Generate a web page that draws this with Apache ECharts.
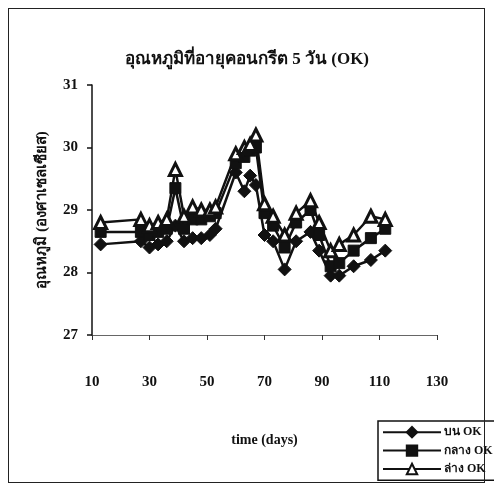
<!DOCTYPE html>
<html>
<head>
<meta charset="utf-8">
<script src="https://cdn.jsdelivr.net/npm/echarts@6/dist/echarts.min.js"></script>
<style>
html,body{margin:0;padding:0;background:#fff;}
#c{width:494px;height:491px;}
#frame{position:absolute;left:8px;top:8px;width:477px;height:475px;border:1px solid #222;box-sizing:border-box;pointer-events:none;}
</style>
</head>
<body>
<div id="c"></div>
<div id="frame"></div>
<script>
const days = [13, 27, 30, 33, 36, 39, 42, 45, 48, 51, 53, 60, 63, 65, 67, 70, 73, 77, 81, 86, 89, 93, 96, 101, 107, 112];
const topSeries = [28.8, 28.85, 28.75, 28.8, 28.85, 29.65, 28.9, 29.05, 29.0, 29.0, 29.05, 29.9, 30.0, 30.05, 30.2, 29.1, 28.9, 28.6, 28.95, 29.15, 28.8, 28.35, 28.45, 28.6, 28.9, 28.85];
const midSeries = [28.65, 28.65, 28.6, 28.65, 28.7, 29.35, 28.7, 28.85, 28.85, 28.9, 28.95, 29.75, 29.85, 29.95, 30.0, 28.95, 28.75, 28.4, 28.8, 29.0, 28.6, 28.1, 28.15, 28.35, 28.55, 28.7];
const lowSeries = [28.45, 28.5, 28.4, 28.45, 28.5, 28.75, 28.5, 28.55, 28.55, 28.6, 28.7, 29.6, 29.3, 29.55, 29.4, 28.6, 28.5, 28.05, 28.5, 28.65, 28.35, 27.95, 27.95, 28.1, 28.2, 28.35];
const xTicks = [10, 30, 50, 70, 90, 110, 130];
const yTicks = [27, 28, 29, 30, 31];
const names = ['บน OK', 'กลาง OK', 'ล่าง OK'];
const title = 'อุณหภูมิที่อายุคอนกรีต 5 วัน (OK)';
const yName = 'อุณหภูมิ (องศาเซลเซียส)';
const xName = 'time (days)';

const FONT = '"Liberation Serif", "Noto Sans", serif';
const pairs = a => days.map((d, i) => [d, a[i]]);
const chart = echarts.init(document.getElementById('c'));
const mk = (name, data, symbol, size, white) => ({
  name, type: 'line', data: pairs(data), symbol, symbolSize: size,
  lineStyle: {color: '#111', width: 2.5},
  itemStyle: white ? {color: '#fff', borderColor: '#111', borderWidth: 3} : {color: '#111', borderColor: '#111', borderWidth: 1},
  z: 3
});
chart.setOption({
  animation: false,
  backgroundColor: '#fff',
  title: {
    text: title, left: 'center', top: 46,
    textStyle: {fontFamily: FONT, fontSize: 17, fontWeight: 'bold', color: '#111'}
  },
  grid: {left: 92, right: 57, top: 85, bottom: 156},
  xAxis: {
    type: 'value', min: 10, max: 130, interval: 20,
    name: xName, nameLocation: 'middle', nameGap: 98,
    nameTextStyle: {fontFamily: FONT, fontSize: 14, fontWeight: 'bold', color: '#111'},
    axisLine: {lineStyle: {color: '#666', width: 1}},
    axisTick: {show: true, length: 5, lineStyle: {color: '#333', width: 1}},
    axisLabel: {margin: 40, fontFamily: FONT, fontSize: 15, fontWeight: 'bold', color: '#111',
      formatter: v => xTicks.includes(v) ? String(v) : ''},
    splitLine: {show: false}
  },
  yAxis: {
    type: 'value', min: 27, max: 31, interval: 1,
    name: yName, nameLocation: 'middle', nameGap: 42, nameRotate: 90,
    nameTextStyle: {fontFamily: FONT, fontSize: 15, fontWeight: 'bold', color: '#111'},
    axisLine: {show: true, lineStyle: {color: '#111', width: 1.5}},
    axisTick: {show: true, length: 5, lineStyle: {color: '#111', width: 1.5}},
    axisLabel: {margin: 14, fontFamily: FONT, fontSize: 15, fontWeight: 'bold', color: '#111',
      formatter: v => yTicks.includes(v) ? String(v) : ''},
    splitLine: {show: false}
  },
  legend: {
    orient: 'vertical', left: 378, top: 421,
    itemWidth: 58, itemHeight: 13, itemGap: 6,
    padding: [5, 4, 5, 4],
    borderColor: '#111', borderWidth: 1.5, backgroundColor: '#fff',
    textStyle: {fontFamily: FONT, fontSize: 12, fontWeight: 'bold', color: '#111', padding: [0, 0, 0, -2]},
    data: names
  },
  series: [
    mk(names[0], lowSeries, 'diamond', 13, false),
    mk(names[1], midSeries, 'rect', 11, false),
    mk(names[2], topSeries, 'triangle', 12, true)
  ]
});
</script>
</body>
</html>
